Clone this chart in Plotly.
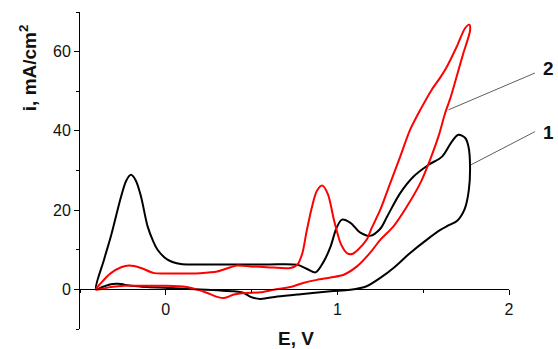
import plotly.graph_objects as go

# Curve 1 (black): forward scan then reverse scan, E in V, i in mA/cm2
E1 = [-0.407, -0.36, -0.32, -0.26, -0.23, -0.203, -0.175, -0.145, -0.106, -0.075, -0.048, 0.01, 0.087,
      0.2, 0.4, 0.6, 0.766, 0.82, 0.872, 0.92, 0.96, 0.995, 1.027, 1.076, 1.134, 1.19, 1.25, 1.29,
      1.366, 1.444, 1.53, 1.61, 1.667, 1.705, 1.745, 1.764, 1.773, 1.766, 1.742, 1.70, 1.65,
      1.6, 1.52, 1.424, 1.327, 1.25, 1.17, 1.076, 0.96, 0.785, 0.65, 0.552, 0.494, 0.455, 0.40,
      0.30, 0.2, 0.05, -0.11, -0.2, -0.28, -0.32, -0.37, -0.407]
I1 = [0.0, 7.5, 13.4, 23.5, 27.5, 28.9, 27.5, 23.5, 15.9, 12.3, 10.0, 7.5, 6.4,
      6.3, 6.3, 6.3, 6.2, 5.2, 4.3, 7.0, 10.8, 15.5, 17.6, 16.8, 14.3, 13.5, 15.3, 18.4,
      24.3, 28.5, 31.4, 33.5, 37.3, 39.0, 38.2, 36.0, 31.0, 25.1, 20.3, 17.4, 16.2,
      15.0, 12.5, 9.2, 5.4, 2.9, 0.8, -0.1, -0.5, -1.2, -1.8, -2.4, -1.9, -0.9, -0.5,
      -0.25, 0.0, 0.3, 0.6, 0.9, 1.4, 1.3, 0.6, 0.0]

# Curve 2 (red)
E2 = [-0.407, -0.378, -0.32, -0.26, -0.213, -0.145, -0.068, 0.01, 0.2, 0.30, 0.378, 0.417, 0.494,
      0.59, 0.727, 0.766, 0.795, 0.82, 0.85, 0.88, 0.911, 0.945, 0.98, 1.02, 1.06, 1.09, 1.12,
      1.17, 1.2, 1.25, 1.308, 1.366, 1.424, 1.483, 1.55, 1.6, 1.638, 1.696, 1.744, 1.769,
      1.773, 1.734, 1.70, 1.66, 1.628, 1.589, 1.54, 1.483, 1.405, 1.327, 1.25, 1.19, 1.114,
      1.037, 0.96, 0.88, 0.80, 0.727, 0.63, 0.552, 0.455, 0.397, 0.34, 0.30, 0.242, 0.2,
      0.12, 0.0, -0.106, -0.24, -0.32, -0.407]
I2 = [0.0, 1.6, 4.1, 5.6, 6.0, 5.4, 4.1, 4.0, 4.1, 4.5, 5.6, 6.0, 5.8,
      5.6, 5.4, 6.2, 9.0, 14.5, 20.5, 24.8, 26.2, 24.0, 17.5, 11.5, 9.0, 9.0, 10.0,
      12.5, 15.5, 20.1, 26.8, 33.5, 40.3, 45.3, 50.4, 53.5, 56.2, 61.3, 65.9, 66.8,
      65.3, 59.6, 54.5, 48.5, 44.5, 38.6, 32.7, 26.8, 20.9, 15.9, 12.5, 9.2, 5.8,
      3.7, 3.0, 2.4, 1.6, 0.6, -0.1, -0.75, -0.9, -1.3, -2.2, -1.9, -0.9, -0.25,
      0.6, 0.9, 0.9, 0.9, 0.6, 0.0]

X_RANGE = [-0.5, 2.0]
Y_RANGE = [-10, 70]
X_TICKS = [0, 1, 2]
Y_TICKS = [0, 20, 40, 60]

# curve labels and leader lines (data units)
LABELS = ["1", "2"]
LABEL_POS = [(2.233, 39.5), (2.233, 55.7)]
LEADERS = [((1.777, 31.4), (2.151, 39.8)), ((1.647, 45.3), (2.151, 54.6))]


def px(x):
    return (x - X_RANGE[0]) / (X_RANGE[1] - X_RANGE[0])


def py(y):
    return (y - Y_RANGE[0]) / (Y_RANGE[1] - Y_RANGE[0])


fig = go.Figure()
fig.add_trace(go.Scatter(x=E1, y=I1, mode="lines",
                         line=dict(color="black", width=2, shape="spline", smoothing=0.9),
                         hoverinfo="skip"))
fig.add_trace(go.Scatter(x=E2, y=I2, mode="lines",
                         line=dict(color="#ff0000", width=2, shape="spline", smoothing=0.8),
                         hoverinfo="skip"))

font = "Liberation Sans, Arial, sans-serif"

fig.update_layout(
    template="none",
    width=558, height=349,
    margin=dict(l=80, r=49, t=12, b=20, pad=0),
    paper_bgcolor="white", plot_bgcolor="white",
    showlegend=False,
    font=dict(family=font, size=16, color="#111"),
    xaxis=dict(range=X_RANGE, tickvals=X_TICKS, ticktext=[str(v) for v in X_TICKS],
               showgrid=False, zeroline=False, showline=True, linecolor="black", linewidth=1,
               ticks="outside", ticklen=5, tickwidth=1, tickcolor="black", automargin=False,
               minor=dict(dtick=0.5, tick0=0, ticks="outside", ticklen=3, tickcolor="black", tickwidth=1),
               anchor="free", position=py(0), tickfont=dict(size=16)),
    yaxis=dict(range=Y_RANGE, tickvals=Y_TICKS, ticktext=[str(v) for v in Y_TICKS],
               showgrid=False, zeroline=False, showline=True, linecolor="black", linewidth=1,
               ticks="outside", ticklen=5, tickwidth=1, tickcolor="black", automargin=False,
               minor=dict(dtick=10, tick0=0, ticks="outside", ticklen=3, tickcolor="black", tickwidth=1),
               tickfont=dict(size=16)),
)

annotations = [
    dict(text="<b>E, V</b>", x=0.5035, y=-0.0315, xref="paper", yref="paper",
         showarrow=False, xanchor="center", yanchor="middle", font=dict(size=19, color="#111")),
    dict(text="<b>i, mA/cm<sup>2</sup></b>", x=-0.121, y=0.823, xref="paper", yref="paper",
         showarrow=False, textangle=-90, xanchor="center", yanchor="middle", font=dict(size=19, color="#111")),
]
for lab, (lx, ly) in zip(LABELS, LABEL_POS):
    annotations.append(dict(text="<b>%s</b>" % lab, x=px(lx), y=py(ly), xref="paper", yref="paper",
                            showarrow=False, xanchor="center", yanchor="middle",
                            font=dict(size=19, color="#111")))
fig.update_layout(annotations=annotations)

for (a, b) in LEADERS:
    fig.add_shape(type="line", xref="paper", yref="paper",
                  x0=px(a[0]), y0=py(a[1]), x1=px(b[0]), y1=py(b[1]),
                  line=dict(color="#333", width=0.8))

fig.write_html("out.html",
               config={"displayModeBar": False, "staticPlot": True},
               post_script="document.body.style.margin='0';document.body.style.padding='0';"
                           "document.body.style.overflow='hidden';")
